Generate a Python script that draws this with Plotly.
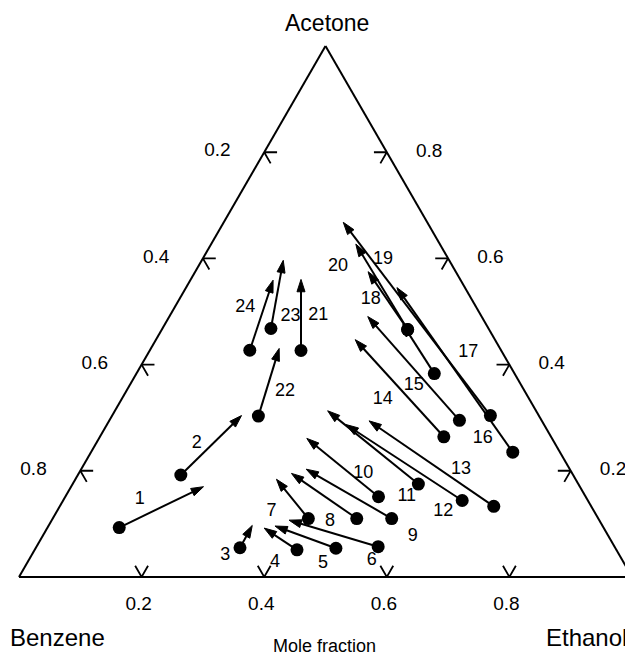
import plotly.graph_objects as go

# ---------------- data (mole fractions) ----------------
point_ids = [str(i) for i in range(1, 25)]

# start points (dots)
start_acetone = [0.093, 0.192, 0.055, 0.051, 0.054, 0.057, 0.110, 0.110, 0.110, 0.151, 0.175, 0.144,
                 0.133, 0.264, 0.383, 0.235, 0.304, 0.295, 0.466, 0.466, 0.427, 0.303, 0.468, 0.427]
start_benzene = [0.790, 0.640, 0.612, 0.521, 0.456, 0.386, 0.473, 0.394, 0.337, 0.338, 0.261, 0.205,
                 0.159, 0.175, 0.131, 0.077, 0.079, 0.134, 0.133, 0.133, 0.327, 0.458, 0.355, 0.410]
start_ethanol = [0.117, 0.168, 0.333, 0.428, 0.490, 0.558, 0.417, 0.496, 0.553, 0.511, 0.564, 0.651,
                 0.708, 0.561, 0.486, 0.688, 0.617, 0.571, 0.401, 0.401, 0.247, 0.239, 0.177, 0.163]

# end points (arrow heads)
end_acetone = [0.170, 0.304, 0.097, 0.092, 0.096, 0.107, 0.184, 0.195, 0.203, 0.261, 0.313, 0.287,
               0.294, 0.447, 0.476, 0.545, 0.668, 0.491, 0.627, 0.575, 0.561, 0.430, 0.597, 0.559]
end_benzene = [0.614, 0.485, 0.571, 0.554, 0.535, 0.506, 0.488, 0.458, 0.430, 0.400, 0.340, 0.323,
               0.282, 0.228, 0.136, 0.111, 0.137, 0.186, 0.137, 0.143, 0.260, 0.360, 0.271, 0.306]
end_ethanol = [0.216, 0.211, 0.332, 0.354, 0.370, 0.387, 0.328, 0.347, 0.367, 0.339, 0.347, 0.390,
               0.424, 0.325, 0.388, 0.344, 0.195, 0.324, 0.236, 0.282, 0.180, 0.209, 0.133, 0.135]

# label anchor positions
label_acetone = [0.146, 0.252, 0.041, 0.027, 0.026, 0.030, 0.124, 0.105, 0.077, 0.195, 0.151, 0.124,
                 0.202, 0.335, 0.360, 0.261, 0.422, 0.522, 0.598, 0.585, 0.493, 0.349, 0.490, 0.508]
label_benzene = [0.730, 0.584, 0.643, 0.569, 0.491, 0.409, 0.526, 0.440, 0.319, 0.341, 0.292, 0.246,
                 0.178, 0.239, 0.176, 0.113, 0.056, 0.165, 0.107, 0.187, 0.266, 0.391, 0.312, 0.377]
label_ethanol = [0.124, 0.164, 0.316, 0.404, 0.483, 0.560, 0.350, 0.455, 0.604, 0.464, 0.557, 0.630,
                 0.620, 0.426, 0.464, 0.626, 0.522, 0.313, 0.295, 0.228, 0.242, 0.259, 0.198, 0.115]

tick_values = [0.2, 0.4, 0.6, 0.8]
tick_labels = ["0.2", "0.4", "0.6", "0.8"]

# ---------------- figure ----------------
FONT = "Liberation Sans, Arial, Helvetica, sans-serif"
NBSP = "\u00a0"
fig = go.Figure()

# arrow shafts with heads at the end point
arr_a, arr_b, arr_c, sizes = [], [], [], []
for i in range(len(point_ids)):
    arr_a += [start_acetone[i], end_acetone[i], None]
    arr_b += [start_benzene[i], end_benzene[i], None]
    arr_c += [start_ethanol[i], end_ethanol[i], None]
    sizes += [0, 13, 0]

fig.add_trace(go.Scatterternary(
    a=arr_a, b=arr_b, c=arr_c, mode="lines+markers",
    line=dict(color="black", width=2),
    marker=dict(symbol="arrow", size=sizes, color="black", angleref="previous",
                opacity=1, line=dict(width=1, color="black")),
    hoverinfo="skip", showlegend=False, connectgaps=False))

# start dots
fig.add_trace(go.Scatterternary(
    a=start_acetone, b=start_benzene, c=start_ethanol, mode="markers",
    marker=dict(symbol="circle", size=13, color="black", line=dict(width=0)),
    hoverinfo="skip", showlegend=False))

# point numbers
fig.add_trace(go.Scatterternary(
    a=label_acetone, b=label_benzene, c=label_ethanol, mode="text",
    text=point_ids, textfont=dict(family=FONT, size=18, color="black"),
    hoverinfo="skip", showlegend=False, cliponaxis=False))

# chevron tick marks on the three sides
d = 0.021
ck_a, ck_b, ck_c = [], [], []
for v in tick_values:
    # left side (benzene scale)
    ck_a += [1 - v, 1 - v, 1 - v - d, None]
    ck_b += [v - d, v, v, None]
    ck_c += [d, 0, d, None]
    # bottom side (ethanol scale)
    ck_a += [d, 0, d, None]
    ck_b += [1 - v - d, 1 - v, 1 - v, None]
    ck_c += [v, v, v - d, None]
    # right side (acetone scale)
    ck_a += [v, v, v - d, None]
    ck_b += [d, 0, d, None]
    ck_c += [1 - v - d, 1 - v, 1 - v, None]
fig.add_trace(go.Scatterternary(
    a=ck_a, b=ck_b, c=ck_c, mode="lines", line=dict(color="black", width=1.8),
    hoverinfo="skip", showlegend=False, connectgaps=False, cliponaxis=False))

rev = tick_labels[::-1]


def axis_style(ticks, ticklen, ticktext):
    return dict(showgrid=False, ticks=ticks, ticklen=ticklen, tickcolor="rgba(0,0,0,0)",
                showline=True, linecolor="black", linewidth=2,
                tickfont=dict(family=FONT, size=19, color="black"),
                tickvals=tick_values, ticktext=ticktext, min=0, title=dict(text=""))


fig.update_layout(
    width=625, height=650,
    margin=dict(l=11, r=1, t=37, b=80),
    paper_bgcolor="white",
    font=dict(family=FONT, color="black"),
    ternary=dict(
        sum=1, bgcolor="white",
        aaxis=axis_style("outside", 30, rev),
        baxis=axis_style("outside", 10, [t + NBSP * 3 for t in rev]),
        caxis=axis_style("", 0, [NBSP * 5 + t for t in rev]),
    ),
    annotations=[
        dict(text="Acetone", x=0.5025, y=1.0413, xref="paper", yref="paper",
             xanchor="center", yanchor="middle",
             showarrow=False, font=dict(size=23, family=FONT)),
        dict(text="Benzene", x=0.062, y=-0.111, xref="paper", yref="paper",
             xanchor="center", yanchor="middle",
             showarrow=False, font=dict(size=24, family=FONT)),
        dict(text="Ethanol", x=0.995, y=-0.111, xref="paper", yref="paper",
             xanchor="right", yanchor="middle",
             showarrow=False, font=dict(size=24, family=FONT)),
        dict(text="Mole fraction", x=0.4976, y=-0.1276, xref="paper", yref="paper",
             xanchor="center", yanchor="middle",
             showarrow=False, font=dict(size=18, family=FONT)),
    ],
)

fig.write_html("out.html")
